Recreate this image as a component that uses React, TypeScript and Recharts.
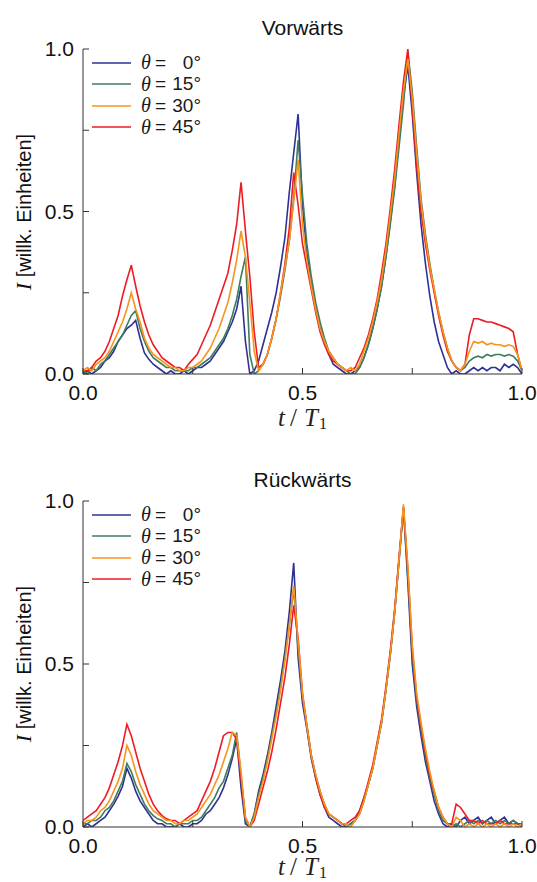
import { Legend, Line, LineChart, XAxis, YAxis } from "recharts";

const SANS = '"Liberation Sans", Arial, Helvetica, sans-serif';
const SERIF = '"Liberation Serif", "Times New Roman", serif';

const T = [
  0.0, 0.01, 0.02, 0.03, 0.04, 0.05, 0.06, 0.07, 0.08, 0.09,
  0.1, 0.11, 0.12, 0.13, 0.14, 0.15, 0.16, 0.17, 0.18, 0.19,
  0.2, 0.21, 0.22, 0.23, 0.24, 0.25, 0.26, 0.27, 0.28, 0.29,
  0.3, 0.31, 0.32, 0.33, 0.34, 0.35, 0.36, 0.37, 0.38, 0.39,
  0.4, 0.41, 0.42, 0.43, 0.44, 0.45, 0.46, 0.47, 0.48, 0.49,
  0.5, 0.51, 0.52, 0.53, 0.54, 0.55, 0.56, 0.57, 0.58, 0.59,
  0.6, 0.61, 0.62, 0.63, 0.64, 0.65, 0.66, 0.67, 0.68, 0.69,
  0.7, 0.71, 0.72, 0.73, 0.74, 0.75, 0.76, 0.77, 0.78, 0.79,
  0.8, 0.81, 0.82, 0.83, 0.84, 0.85, 0.86, 0.87, 0.88, 0.89,
  0.9, 0.91, 0.92, 0.93, 0.94, 0.95, 0.96, 0.97, 0.98, 0.99,
  1.0,
];

// Vorwärts
const VOR_0 = [
  0.0, 0.01, 0.0, 0.01, 0.02, 0.04, 0.05, 0.07, 0.1, 0.12,
  0.14, 0.15, 0.165, 0.11, 0.065, 0.045, 0.03, 0.02, 0.01, 0.0,
  0.01, 0.0, 0.0, 0.01, 0.0, 0.01, 0.02, 0.02, 0.03, 0.04,
  0.06, 0.08, 0.1, 0.13, 0.16, 0.2, 0.27, 0.1, 0.0, 0.01,
  0.04, 0.09, 0.14, 0.19, 0.25, 0.33, 0.42, 0.56, 0.68, 0.8,
  0.52, 0.37, 0.28, 0.2, 0.14, 0.1, 0.06, 0.03, 0.02, 0.01,
  0.0, 0.0, 0.01, 0.02, 0.05, 0.09, 0.14, 0.2, 0.27, 0.36,
  0.47, 0.58, 0.72, 0.85, 0.95, 0.8, 0.62, 0.46, 0.34, 0.24,
  0.16, 0.1, 0.06, 0.02, 0.0, 0.01, 0.0, 0.0, 0.01, 0.02,
  0.01, 0.02, 0.01, 0.02, 0.02, 0.01, 0.03, 0.02, 0.03, 0.02,
  0.0,
];
const VOR_15 = [
  0.01, 0.0, 0.02, 0.01, 0.03, 0.04, 0.06, 0.08, 0.1, 0.12,
  0.15, 0.18, 0.195, 0.14, 0.1, 0.07, 0.05, 0.04, 0.03, 0.02,
  0.02, 0.01, 0.01, 0.01, 0.01, 0.02, 0.02, 0.03, 0.04, 0.05,
  0.07, 0.09, 0.11, 0.14, 0.18, 0.23, 0.3, 0.36, 0.06, 0.0,
  0.01, 0.03, 0.06, 0.11, 0.17, 0.24, 0.32, 0.41, 0.54, 0.72,
  0.55, 0.4, 0.3, 0.22, 0.16, 0.11, 0.07, 0.05, 0.03, 0.02,
  0.01, 0.0, 0.0, 0.02, 0.05, 0.09, 0.14, 0.2, 0.27, 0.36,
  0.46, 0.57, 0.7, 0.83, 0.99, 0.87, 0.7, 0.54, 0.43, 0.34,
  0.26, 0.19, 0.13, 0.08, 0.04, 0.02, 0.01, 0.02, 0.04, 0.05,
  0.055, 0.05, 0.06, 0.055, 0.06, 0.06, 0.055, 0.06, 0.055, 0.04,
  0.01,
];
const VOR_30 = [
  0.01, 0.02, 0.01, 0.03, 0.04, 0.05, 0.07, 0.1, 0.13, 0.16,
  0.2, 0.25, 0.2, 0.16, 0.11, 0.08, 0.06, 0.05, 0.04, 0.03,
  0.02, 0.02, 0.01, 0.01, 0.02, 0.02, 0.03, 0.04, 0.06, 0.08,
  0.11, 0.14, 0.18, 0.22, 0.28, 0.35, 0.44, 0.36, 0.22, 0.07,
  0.01, 0.03, 0.06, 0.11, 0.17, 0.25, 0.33, 0.41, 0.53, 0.66,
  0.46, 0.35, 0.27, 0.2, 0.14, 0.1, 0.07, 0.05, 0.03, 0.02,
  0.01, 0.02, 0.01, 0.03, 0.07, 0.11, 0.16, 0.22, 0.29, 0.38,
  0.49, 0.6, 0.74, 0.87, 0.97, 0.85, 0.68, 0.53, 0.42, 0.33,
  0.26, 0.19, 0.13, 0.08, 0.04, 0.02, 0.01, 0.03, 0.07, 0.1,
  0.095, 0.1, 0.09, 0.095, 0.09, 0.09, 0.085, 0.09, 0.085, 0.06,
  0.01,
];
const VOR_45 = [
  0.01, 0.01, 0.02, 0.04, 0.05, 0.07, 0.1, 0.14, 0.18, 0.24,
  0.29, 0.335, 0.27, 0.21, 0.16, 0.12, 0.09, 0.07, 0.05, 0.04,
  0.03, 0.02, 0.02, 0.01, 0.03, 0.045, 0.06, 0.09, 0.12, 0.15,
  0.19, 0.23, 0.27, 0.31, 0.38, 0.46, 0.59, 0.44, 0.3, 0.13,
  0.02, 0.03, 0.06, 0.11, 0.17, 0.25, 0.34, 0.45, 0.62, 0.52,
  0.4, 0.33, 0.26, 0.19, 0.13, 0.09, 0.06, 0.04, 0.03, 0.02,
  0.01, 0.01, 0.02, 0.05, 0.08, 0.12, 0.17, 0.23, 0.31, 0.4,
  0.51, 0.63, 0.77, 0.9, 1.0, 0.82, 0.64, 0.5, 0.4, 0.32,
  0.25, 0.18, 0.12, 0.07, 0.04, 0.02, 0.01, 0.03, 0.12, 0.17,
  0.17, 0.165, 0.16, 0.16, 0.155, 0.15, 0.145, 0.14, 0.13, 0.06,
  0.01,
];

// Rückwärts
const RUECK_0 = [
  0.0, 0.01, 0.0, 0.01, 0.02, 0.03, 0.05, 0.07, 0.095, 0.125,
  0.18, 0.15, 0.11, 0.08, 0.06, 0.04, 0.02, 0.01, 0.01, 0.0,
  0.0, 0.0, 0.01, 0.0, 0.0, 0.01, 0.01, 0.02, 0.04, 0.05,
  0.07, 0.09, 0.12, 0.16, 0.21, 0.27, 0.12, 0.01, 0.0, 0.04,
  0.11, 0.16, 0.22, 0.29, 0.37, 0.45, 0.54, 0.66, 0.81, 0.52,
  0.38, 0.3, 0.21, 0.15, 0.1, 0.06, 0.03, 0.02, 0.01, 0.0,
  0.0, 0.01, 0.02, 0.05, 0.09, 0.13, 0.18, 0.25, 0.32, 0.42,
  0.53, 0.66, 0.82, 0.98, 0.75, 0.5, 0.37, 0.28, 0.2, 0.14,
  0.08, 0.04, 0.01, 0.0, 0.01, 0.0, 0.02, 0.03, 0.01, 0.02,
  0.03, 0.01, 0.02, 0.03, 0.01, 0.02, 0.03, 0.01, 0.02, 0.01,
  0.01,
];
const RUECK_15 = [
  0.01, 0.01, 0.02, 0.02, 0.03, 0.05, 0.06, 0.08, 0.11, 0.14,
  0.195, 0.17, 0.13, 0.1, 0.07, 0.05, 0.035, 0.025, 0.02, 0.01,
  0.01, 0.0, 0.01, 0.01, 0.01, 0.02, 0.02, 0.03, 0.05, 0.07,
  0.09, 0.12, 0.14, 0.18, 0.22, 0.29, 0.16, 0.02, 0.0, 0.04,
  0.1, 0.15, 0.21, 0.28, 0.35, 0.43, 0.52, 0.62, 0.73, 0.55,
  0.4, 0.31, 0.22, 0.16, 0.11, 0.07, 0.04, 0.03, 0.02, 0.01,
  0.0, 0.01, 0.02, 0.04, 0.08, 0.13, 0.18, 0.25, 0.32, 0.42,
  0.53, 0.66, 0.82, 0.98, 0.77, 0.53, 0.39, 0.3, 0.22, 0.15,
  0.1, 0.05, 0.02, 0.01, 0.0, 0.01, 0.0, 0.01, 0.02, 0.01,
  0.02, 0.01, 0.02, 0.01, 0.02, 0.01, 0.02, 0.01, 0.02, 0.01,
  0.0,
];
const RUECK_30 = [
  0.01, 0.02, 0.02, 0.03, 0.05, 0.06, 0.08, 0.11, 0.14, 0.18,
  0.25, 0.22, 0.17, 0.13, 0.1, 0.07, 0.05, 0.04, 0.03, 0.02,
  0.02, 0.01, 0.01, 0.02, 0.02, 0.03, 0.04, 0.06, 0.08, 0.1,
  0.13, 0.16, 0.2, 0.24, 0.29, 0.28, 0.17, 0.03, 0.0, 0.03,
  0.09, 0.14, 0.2, 0.27, 0.34, 0.42, 0.51, 0.62, 0.74, 0.57,
  0.41, 0.31, 0.22, 0.16, 0.11, 0.07, 0.04, 0.03, 0.02, 0.01,
  0.01, 0.0, 0.02, 0.04, 0.08, 0.13, 0.18, 0.25, 0.32, 0.42,
  0.53, 0.66, 0.82, 0.99, 0.8, 0.56, 0.41, 0.32, 0.24, 0.17,
  0.11, 0.06, 0.03, 0.01, 0.0, 0.03, 0.02, 0.0, 0.01, 0.0,
  0.01, 0.0, 0.01, 0.0, 0.01, 0.0, 0.01, 0.0, 0.01, 0.0,
  0.01,
];
const RUECK_45 = [
  0.02, 0.03, 0.04, 0.05, 0.07, 0.09, 0.12, 0.16, 0.2, 0.25,
  0.315, 0.28, 0.23, 0.18, 0.14, 0.1, 0.07, 0.05, 0.035, 0.025,
  0.02, 0.02, 0.01, 0.02, 0.03, 0.04, 0.05, 0.08, 0.11, 0.14,
  0.18, 0.23, 0.28, 0.29, 0.29, 0.27, 0.15, 0.03, 0.0, 0.02,
  0.07, 0.12, 0.17, 0.23, 0.3, 0.38, 0.46, 0.56, 0.68, 0.58,
  0.41, 0.31, 0.22, 0.15, 0.1, 0.06, 0.04, 0.03, 0.02, 0.01,
  0.01, 0.02, 0.03, 0.05, 0.09, 0.14, 0.19, 0.26, 0.33, 0.43,
  0.54, 0.67, 0.83, 0.98, 0.79, 0.55, 0.4, 0.31, 0.23, 0.16,
  0.11, 0.06, 0.03, 0.01, 0.01, 0.07, 0.06, 0.04, 0.02, 0.02,
  0.01, 0.02, 0.01, 0.01, 0.01, 0.02, 0.01, 0.01, 0.01, 0.01,
  0.01,
];

const THETA = ["0", "15", "30", "45"];
const COLORS = ["#2e3192", "#3f7d5c", "#f7941d", "#ed1c24"];
const KEYS = ["a0", "a15", "a30", "a45"];
const DRAW_ORDER = [0, 1, 3, 2];
const TICKS = [0, 0.25, 0.5, 0.75, 1];
const LABELED = [0, 0.5, 1];

const fmt = (v: number) => (LABELED.includes(v) ? v.toFixed(1) : "");
const blank = () => "";

function buildRows(series: number[][]) {
  return T.map((t, i) => ({
    t,
    a0: series[0][i],
    a15: series[1][i],
    a30: series[2][i],
    a45: series[3][i],
  }));
}

const VOR_ROWS = buildRows([VOR_0, VOR_15, VOR_30, VOR_45]);
const RUECK_ROWS = buildRows([RUECK_0, RUECK_15, RUECK_30, RUECK_45]);

function LegendBox() {
  return (
    <div style={{ fontFamily: SANS, fontSize: 19, color: "#1a1a1a" }}>
      {THETA.map((th, i) => (
        <div key={th} style={{ display: "flex", alignItems: "center", height: 21.5, whiteSpace: "pre" }}>
          <svg width={39} height={4}>
            <line x1={0} y1={2} x2={39} y2={2} stroke={COLORS[i]} strokeWidth={1.6} />
          </svg>
          <span style={{ marginLeft: 10, width: 12, fontFamily: SERIF, fontStyle: "italic", fontSize: 20 }}>θ</span>
          <span style={{ width: 15, textAlign: "center" }}>=</span>
          <span style={{ width: 33, textAlign: "right" }}>{th}°</span>
        </div>
      ))}
    </div>
  );
}

function Panel({ title, rows, top, plotTop, axisH, labelGap }: { title: string; rows: any[]; top: number; plotTop: number; axisH: number; labelGap: number }) {
  const plotBottom = 441 - axisH;
  const mid = (plotTop + plotBottom) / 2;
  return (
    <div style={{ position: "absolute", left: 0, top, width: 537, height: 441 }}>
      <div
        style={{
          position: "absolute", left: 83, width: 439, top: plotTop - 33, lineHeight: "24px",
          textAlign: "center", fontFamily: SANS, fontSize: 21, color: "#111",
        }}
      >
        {title}
      </div>
      <div
        style={{
          position: "absolute", left: 24 - 150, top: mid - 13, width: 300, lineHeight: "26px",
          textAlign: "center", transform: "rotate(-90deg)", fontFamily: SANS, fontSize: 20, color: "#111",
          whiteSpace: "pre",
        }}
      >
        <span style={{ fontFamily: SERIF, fontStyle: "italic", fontSize: 22 }}>I</span>
        {" [willk. Einheiten]"}
      </div>
      <div
        style={{
          position: "absolute", left: 83, width: 439, top: plotBottom + labelGap, lineHeight: "22px",
          textAlign: "center", fontFamily: SERIF, fontSize: 25, color: "#222", whiteSpace: "pre",
        }}
      >
        <i>t</i>
        <span style={{ margin: "0 5px" }}>/</span>
        <i style={{ marginLeft: 2 }}>T</i>
        <span style={{ fontSize: 16, position: "relative", top: 3, marginLeft: 1 }}>1</span>
      </div>
      <LineChart width={537} height={441} data={rows} margin={{ top: plotTop, right: 15, bottom: 0, left: 0 }}>
        <XAxis
          xAxisId="b"
          dataKey="t"
          type="number"
          domain={[0, 1]}
          ticks={TICKS}
          tickFormatter={fmt}
          tickSize={-6}
          tickMargin={17}
          height={axisH}
          allowDataOverflow
          stroke="#333"
          tick={{ fill: "#111", fontSize: 21, fontFamily: SANS }}
        />
        <XAxis
          xAxisId="t"
          orientation="top"
          type="number"
          domain={[0, 1]}
          ticks={TICKS}
          tickFormatter={blank}
          tickSize={-6}
          height={0}
          allowDataOverflow
          stroke="#333"
        />
        <YAxis
          yAxisId="l"
          type="number"
          domain={[0, 1]}
          ticks={TICKS}
          tickFormatter={fmt}
          tickSize={-6}
          tickMargin={15}
          width={83}
          allowDataOverflow
          stroke="#333"
          tick={{ fill: "#111", fontSize: 21, fontFamily: SANS }}
        />
        <YAxis
          yAxisId="r"
          orientation="right"
          type="number"
          domain={[0, 1]}
          ticks={TICKS}
          tickFormatter={blank}
          tickSize={-6}
          width={0}
          allowDataOverflow
          stroke="#333"
        />
        <Legend
          content={() => <LegendBox />}
          layout="vertical"
          align="center"
          verticalAlign="middle"
          wrapperStyle={{ left: 92, top: plotTop + 3, width: 160 }}
        />
        {DRAW_ORDER.map((i) => (
          <Line
            key={KEYS[i]}
            xAxisId="b"
            yAxisId="l"
            type="linear"
            dataKey={KEYS[i]}
            stroke={COLORS[i]}
            strokeWidth={1.6}
            dot={false}
            isAnimationActive={false}
          />
        ))}
      </LineChart>
    </div>
  );
}

export default function App() {
  return (
    <div style={{ position: "absolute", left: 0, top: 0, width: 537, height: 882, background: "#fff", overflow: "hidden" }}>
      <Panel title="Vorwärts" rows={VOR_ROWS} top={0} plotTop={49} axisH={67} labelGap={33} />
      <Panel title="Rückwärts" rows={RUECK_ROWS} top={441} plotTop={60} axisH={55} labelGap={29} />
    </div>
  );
}
